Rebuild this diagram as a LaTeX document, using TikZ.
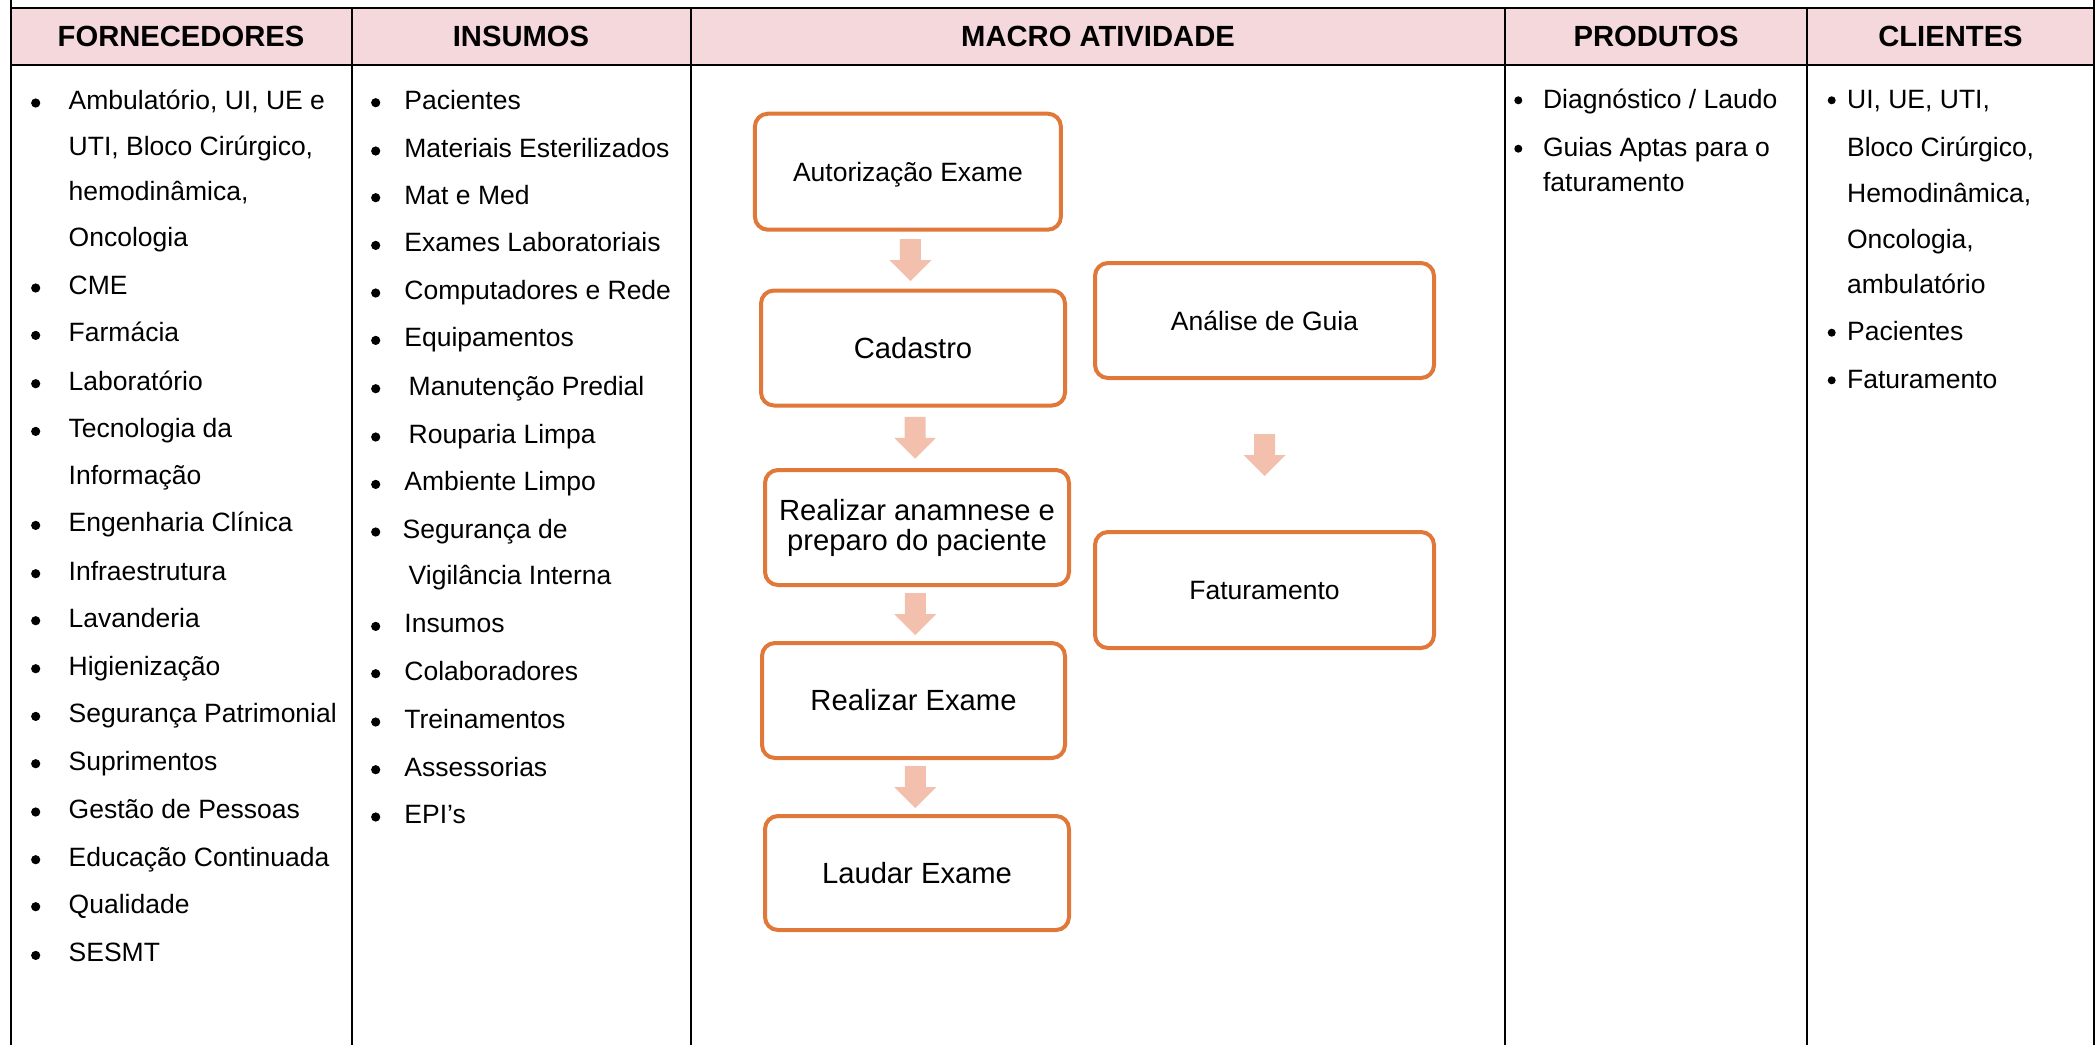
\documentclass[tikz,border=0pt]{standalone}
\usepackage{fontspec}
\setmainfont{Liberation Sans}
\usetikzlibrary{calc}
\definecolor{hdrpink}{HTML}{F5D8DC}
\definecolor{boxorange}{HTML}{E0783A}
\definecolor{arrowfill}{HTML}{F4C0AE}
\begin{document}
\begin{tikzpicture}[x=0.5pt,y=-0.5pt,
  grid/.style={line width=1pt, draw=black},
  hdr/.style={font=\fontsize{14.6}{17}\selectfont\bfseries, anchor=base, inner sep=0},
  item/.style={font=\fontsize{13.25}{16}\selectfont, anchor=base west, inner sep=0},
  proc/.style={draw=boxorange, line width=2pt, rounded corners=6.5pt, fill=white, align=center, inner sep=0},
  smalltxt/.style={font=\fontsize{13.25}{15}\selectfont, text height=9.5pt, text depth=0pt},
  largetxt/.style={font=\fontsize{14.6}{15}\selectfont, text height=10.45pt, text depth=0pt},
  twolines/.style={font=\fontsize{14.6}{15}\selectfont},
  blockarrow/.pic={\fill[arrowfill] (-10.5,-21) -- (10.5,-21) -- (10.5,0) -- (21,0) -- (0,21) -- (-21,0) -- (-10.5,0) -- cycle;}
]
\useasboundingbox (0,0) rectangle (2100,1045);
% header row
\fill[hdrpink] (10.5,8) rectangle (2094,64.5);
\draw[grid] (10.5,0) -- (10.5,1045);
\draw[grid] (2094,0) -- (2094,1045);
\draw[grid] (10.5,8) -- (2094,8);
\draw[grid] (10.5,64.5) -- (2094,64.5);
\foreach \cx in {351.5,691,1505,1807}
  \draw[grid] (\cx,8) -- (\cx,1045);
\node[hdr] (h1) at (181,46) {FORNECEDORES};
\node[hdr] (h2) at (521,46) {INSUMOS};
\node[hdr] (h3) at (1098,46) {MACRO ATIVIDADE};
\node[hdr] (h4) at (1656,46) {PRODUTOS};
\node[hdr] (h5) at (1950.5,46) {CLIENTES};
% FORNECEDORES
\foreach \y/\t [count=\i] in {109.3/{Ambulatório, UI, UE e}, 155/{UTI, Bloco Cirúrgico,}, 200/{hemodinâmica,}, 246/Oncologia, 294.3/CME, 341.7/Farmácia, 390/Laboratório, 437.7/{Tecnologia da}, 484/Informação, 531.7/{Engenharia Clínica}, 580/Infraestrutura, 627/Lavanderia, 675/Higienização, 722.7/{Segurança Patrimonial}, 770/Suprimentos, 818.3/{Gestão de Pessoas}, 866/{Educação Continuada}, 913/Qualidade, 961.7/SESMT}
  \node[item] (f\i) at (68.3,\y) {\t};
\foreach \y in {109.3,294.3,341.7,390,437.7,531.7,580,627,675,722.7,770,818.3,866,913,961.7}
  \fill (35.7,{\y-6.3}) circle[radius=2.3pt];
% INSUMOS
\foreach \x/\y/\t [count=\i] in {404/109/Pacientes, 404/157.3/{Materiais Esterilizados}, 404/204/{Mat e Med}, 404/251.7/{Exames Laboratoriais}, 404/299.3/{Computadores e Rede}, 404/346.7/Equipamentos, 408.3/395/{Manutenção Predial}, 408.3/443.3/{Rouparia Limpa}, 404/490.7/{Ambiente Limpo}, 402.3/538.3/{Segurança de}, 408.3/584.3/{Vigilância Interna}, 404/632.7/Insumos, 404/680/Colaboradores, 404/728.3/Treinamentos, 404/776/Assessorias, 404/823.3/{EPI’s}}
  \node[item] (i\i) at (\x,\y) {\t};
\foreach \y in {109,157.3,204,251.7,299.3,346.7,395,443.3,490.7,538.3,632.7,680,728.3,776,823.3}
  \fill (375.7,{\y-6.3}) circle[radius=2.3pt];
% PRODUTOS
\foreach \y/\t [count=\i] in {108.3/{Diagnóstico / Laudo}, 156.7/{Guias Aptas para o}, 191.7/faturamento}
  \node[item] (p\i) at (1542.7,\y) {\t};
\foreach \y in {108.3,156.7}
  \fill (1518.3,{\y-8}) circle[radius=2pt];
% CLIENTES
\foreach \y/\t [count=\i] in {108.3/{UI, UE, UTI,}, 156.7/{Bloco Cirúrgico,}, 202.7/{Hemodinâmica,}, 248.3/{Oncologia,}, 293.3/ambulatório, 340.7/Pacientes, 388.3/Faturamento}
  \node[item] (c\i) at (1846.7,\y) {\t};
\foreach \y in {108.3,340.7,388.3}
  \fill (1831.7,{\y-8}) circle[radius=2pt];
% MACRO ATIVIDADE boxes
\node[proc, smalltxt, minimum width=153pt, minimum height=58pt] (auth) at (907.9,171.7) {Autorização Exame};
\node[proc, largetxt, minimum width=152pt, minimum height=57.5pt] (cad) at (913,348) {Cadastro};
\node[proc, twolines, minimum width=152pt, minimum height=57.5pt] (anam) at (917,527.5) {Realizar anamnese e\\preparo do paciente};
\node[proc, largetxt, minimum width=151.5pt, minimum height=57.5pt] (real) at (913.5,700.5) {Realizar Exame};
\node[proc, largetxt, minimum width=152pt, minimum height=57pt] (laud) at (917,873) {Laudar Exame};
\node[proc, smalltxt, minimum width=169.5pt, minimum height=57.5pt] (guia) at (1264.5,320.5) {Análise de Guia};
\node[proc, smalltxt, minimum width=169.5pt, minimum height=58pt] (fat) at (1264.5,590) {Faturamento};
% block arrows between boxes
\coordinate (a1) at ($(auth.south)!0.5!(cad.north)$);
\coordinate (a2) at ($(cad.south)!0.5!(anam.north)$);
\coordinate (a3) at ($(anam.south)!0.5!(real.north)$);
\coordinate (a4) at ($(real.south)!0.5!(laud.north)$);
\coordinate (a5) at ($(guia.south)!0.5!(fat.north)$);
\foreach \a in {a1,a2,a3,a4,a5}
  \pic at (\a) {blockarrow};
\end{tikzpicture}
\end{document}
